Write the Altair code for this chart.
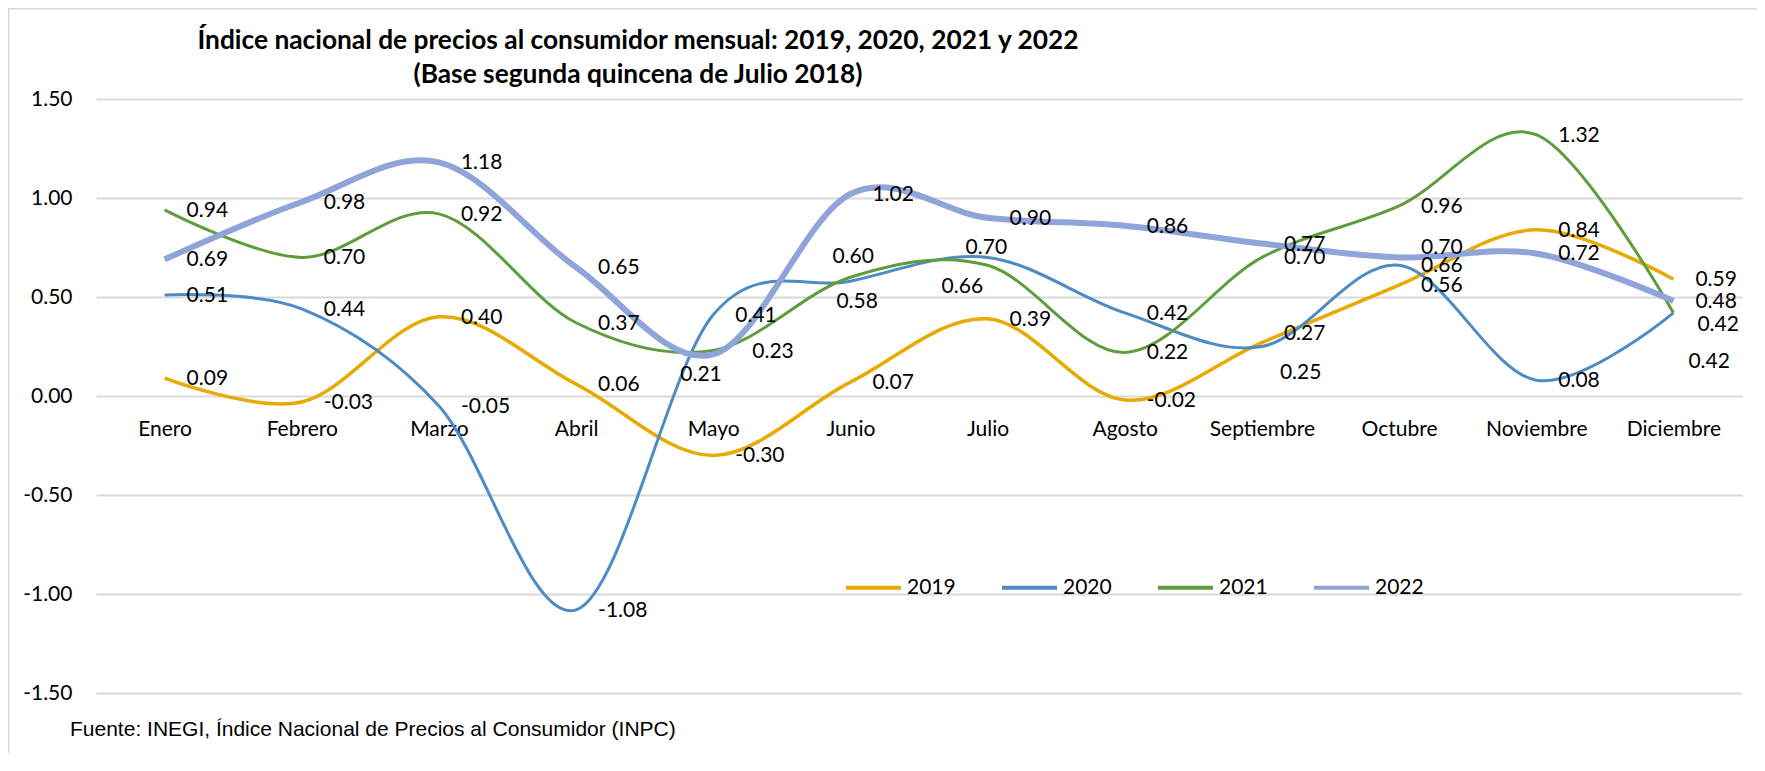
import altair as alt
import pandas as pd

MONTHS = ["Enero", "Febrero", "Marzo", "Abril", "Mayo", "Junio", "Julio",
          "Agosto", "Septiembre", "Octubre", "Noviembre", "Diciembre"]
YEARS = ["2019", "2020", "2021", "2022"]
V2019 = [0.09, -0.03, 0.40, 0.06, -0.30, 0.07, 0.39, -0.02, 0.27, 0.56, 0.84, 0.59]
V2020 = [0.51, 0.44, -0.05, -1.08, 0.41, 0.58, 0.70, 0.42, 0.25, 0.66, 0.08, 0.42]
V2021 = [0.94, 0.70, 0.92, 0.37, 0.23, 0.60, 0.66, 0.22, 0.70, 0.96, 1.32, 0.42]
V2022 = [0.69, 0.98, 1.18, 0.65, 0.21, 1.02, 0.90, 0.86, 0.77, 0.70, 0.72, 0.48]
Y_TICKS = [-1.5, -1.0, -0.5, 0.0, 0.5, 1.0, 1.5]
TITLE_1 = "Índice nacional de precios al consumidor mensual: 2019, 2020, 2021 y 2022"
TITLE_2 = "(Base segunda quincena de Julio 2018)"
FOOTER = "Fuente: INEGI, Índice Nacional de Precios al Consumidor (INPC)"

# styles (kept apart from the data)
COLORS = ["#E6AA00", "#4E8BC5", "#5E9C3C", "#8FA4D8"]
WIDTHS = [3.5, 3, 3, 6]
FONT = "Lato"
GRID = "#D9D9D9"
W, H = 1646, 594

# label placement tweaks (pixels), default is to the right of the point
DEFAULT_NUDGE = (22, 1)
NUDGE = {
    ("2022", "Mayo"): (-33, 21),
    ("2021", "Mayo"): (39, 2),
    ("2021", "Junio"): (-18, -20),
    ("2020", "Junio"): (-14, 21),
    ("2020", "Julio"): (-22, -9),
    ("2021", "Julio"): (-46, 22),
    ("2019", "Septiembre"): (22, -9),
    ("2020", "Septiembre"): (18, 26),
    ("2022", "Octubre"): (22, -9),
    ("2021", "Diciembre"): (24, 12),
    ("2020", "Diciembre"): (15, 49),
}

series = {"2019": V2019, "2020": V2020, "2021": V2021, "2022": V2022}
rows = []
for y in YEARS:
    for m, v in zip(MONTHS, series[y]):
        dx, dy = NUDGE.get((y, m), DEFAULT_NUDGE)
        rows.append({"year": y, "month": m, "value": v,
                     "label": f"{v:.2f}", "nudge": f"{dx},{dy}"})
df = pd.DataFrame(rows)

x_enc = alt.X("month:N", sort=MONTHS,
              scale=alt.Scale(domain=MONTHS, type="point", padding=0.5),
              axis=alt.Axis(title=None, domain=False, ticks=False, grid=False,
                            labelAngle=0, labelFont=FONT, labelFontSize=21,
                            labelColor="black", labelBaseline="alphabetic",
                            labelPadding=39, offset=-297))
y_enc = alt.Y("value:Q",
              scale=alt.Scale(domain=[-1.5, 1.5], nice=False, zero=False),
              axis=alt.Axis(title=None, domain=False, ticks=False, grid=True,
                            gridColor=GRID, gridWidth=2, values=Y_TICKS,
                            labelFont=FONT, labelFontSize=21, labelColor="black",
                            labelPadding=24,
                            labelExpr="datum.value < 0 ? '-' + format(-datum.value, '.2f') : format(datum.value, '.2f')"))
color_enc = alt.Color("year:N", scale=alt.Scale(domain=YEARS, range=COLORS),
                      legend=alt.Legend(orient="none", legendX=748, legendY=459,
                                        direction="horizontal", columns=4,
                                        title=None, symbolType="stroke",
                                        symbolSize=3025, symbolStrokeWidth=4,
                                        labelFont=FONT, labelFontSize=21,
                                        labelColor="black", columnPadding=38,
                                        labelOffset=4, padding=0))

line_layers = []
for yr, w in zip(YEARS, WIDTHS):
    line_layers.append(
        alt.Chart(df).transform_filter(alt.datum.year == yr)
        .mark_line(interpolate="cardinal", strokeWidth=w)
        .encode(x=x_enc, y=y_enc, color=color_enc)
    )

label_layers = []
for nudge in sorted(df["nudge"].unique()):
    dx, dy = (int(s) for s in nudge.split(","))
    label_layers.append(
        alt.Chart(df).transform_filter(alt.datum.nudge == nudge)
        .mark_text(align="left", baseline="middle", dx=dx, dy=dy,
                   font=FONT, fontSize=21, color="black")
        .encode(x=alt.X("month:N", sort=MONTHS), y="value:Q", text="label:N")
    )

one = pd.DataFrame({"k": [0]})
border = alt.Chart(one).mark_rect(fillOpacity=0, stroke=GRID, strokeWidth=2).encode(
    x=alt.value(-87.5), x2=alt.value(W + 200), y=alt.value(-90.5), y2=alt.value(H + 200))

title1 = alt.Chart(one).mark_text(align="center", baseline="alphabetic", font=FONT,
                                  fontSize=26.3, fontWeight="bold", color="black").encode(
    x=alt.value(542), y=alt.value(-50), text=alt.value(TITLE_1))
title2 = alt.Chart(one).mark_text(align="center", baseline="alphabetic", font=FONT,
                                  fontSize=26.3, fontWeight="bold", color="black").encode(
    x=alt.value(542), y=alt.value(-16), text=alt.value(TITLE_2))
footer = alt.Chart(one).mark_text(align="left", baseline="alphabetic",
                                  font="Liberation Sans", fontSize=21, color="black").encode(
    x=alt.value(-26), y=alt.value(637), text=alt.value(FOOTER))

chart = alt.layer(border, *line_layers, *label_layers, title1, title2, footer).properties(
    width=W, height=H,
    padding={"left": 88, "top": 91, "right": 15, "bottom": 60},
    autosize=alt.AutoSizeParams(type="none"),
    background="white",
).configure_view(strokeWidth=0)

chart.save("out.html", embed_options={"renderer": "svg", "actions": False})
